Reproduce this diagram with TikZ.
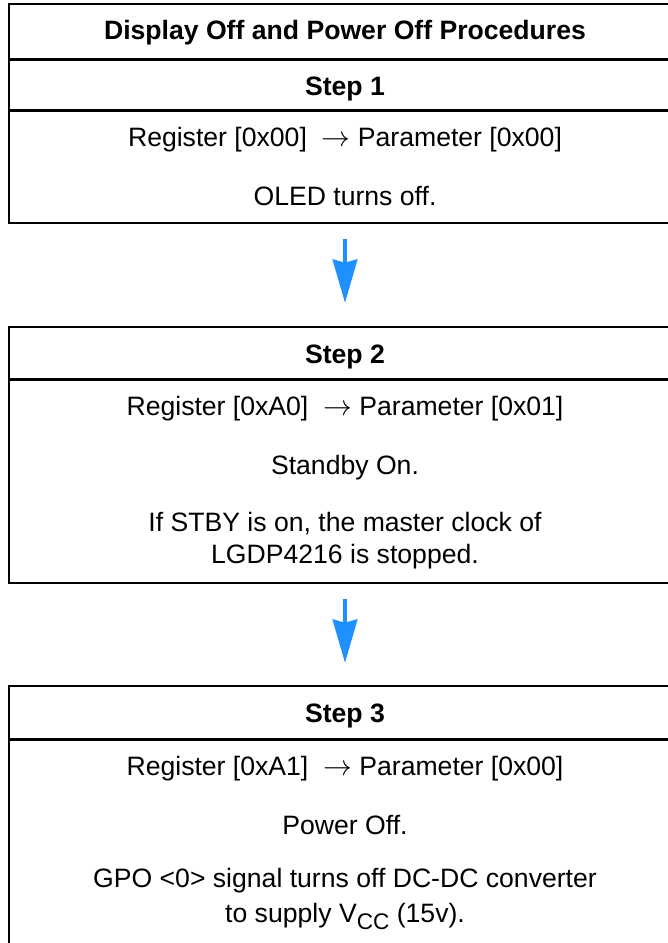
\documentclass[tikz,border=0pt]{standalone}
\usepackage{fontspec}
\setmainfont{Liberation Sans}
\usetikzlibrary{arrows.meta}
\definecolor{arrowblue}{RGB}{30,144,255}
\tikzset{
  boxnode/.style={draw=black, line width=1pt, fill=none, minimum width=336pt, outer sep=0pt, inner sep=0pt, anchor=north west},
  sepline/.style={draw=black, line width=1.75pt},
  txt/.style={font=\fontsize{13.3}{16}\selectfont, inner sep=0pt, anchor=base},
  hdr/.style={font=\fontsize{13.3}{16}\selectfont\bfseries, inner sep=0pt, anchor=base},
  flowarrow/.style={draw=arrowblue, line width=2.2pt,
    -{Stealth[length=21.85pt, width=12.7pt, inset=1.85pt, line width=0pt, fill=arrowblue]}}
}
\begin{document}
\begin{tikzpicture}[x=0.5pt,y=-0.5pt]
\useasboundingbox (0,0) rectangle (668,943);
\clip (0,0) rectangle (668,943);
% boxes
\node[boxnode, minimum height=109.35pt] (b1) at (9,4) {};
\node[boxnode, minimum height=128pt] (b2) at (9,326.7) {};
\node[boxnode, minimum height=142pt] (b3) at (9,686) {};
% separators
\draw[sepline] ([yshift=-27.65pt]b1.north west) -- ([yshift=-27.65pt]b1.north east);
\draw[sepline] ([yshift=-53.25pt]b1.north west) -- ([yshift=-53.25pt]b1.north east);
\draw[sepline] ([yshift=-26.5pt]b2.north west) -- ([yshift=-26.5pt]b2.north east);
\draw[sepline] ([yshift=-26.85pt]b3.north west) -- ([yshift=-26.85pt]b3.north east);
% box 1 texts
\node[hdr] (title) at (345,39.5) {Display Off and Power Off Procedures};
\node[hdr] (s1) at (345,95) {Step 1};
\node[txt] (r1) at (345,146) {Register [0x00]~ \(\rightarrow\) Parameter [0x00]};
\node[txt] (t1) at (345,205) {OLED turns off.};
% box 2 texts
\node[hdr] (s2) at (345,363) {Step 2};
\node[txt] (r2) at (345,415) {Register [0xA0]~ \(\rightarrow\) Parameter [0x01]};
\node[txt] (t2) at (345,474) {Standby On.};
\node[txt] (t2b) at (345,531) {If STBY is on, the master clock of};
\node[txt] (t2c) at (345,563.3) {LGDP4216 is stopped.};
% box 3 texts
\node[hdr] (s3) at (345,722.5) {Step 3};
\node[txt] (r3) at (345,775) {Register [0xA1]~ \(\rightarrow\) Parameter [0x00]};
\node[txt] (t3) at (345,834) {Power Off.};
\node[txt] (t3b) at (345,887.5) {GPO <0> signal turns off DC-DC converter};
\node[txt] (t3c) at (345,922) {to supply V\raisebox{-0.28em}{\fontsize{11.3}{12}\selectfont CC} (15v).};
% arrows
\draw[flowarrow] ([yshift=-8.15pt]b1.south) -- ([yshift=12pt]b2.north);
\draw[flowarrow] ([yshift=-8.15pt]b2.south) -- ([yshift=11.65pt]b3.north);
\end{tikzpicture}
\end{document}
